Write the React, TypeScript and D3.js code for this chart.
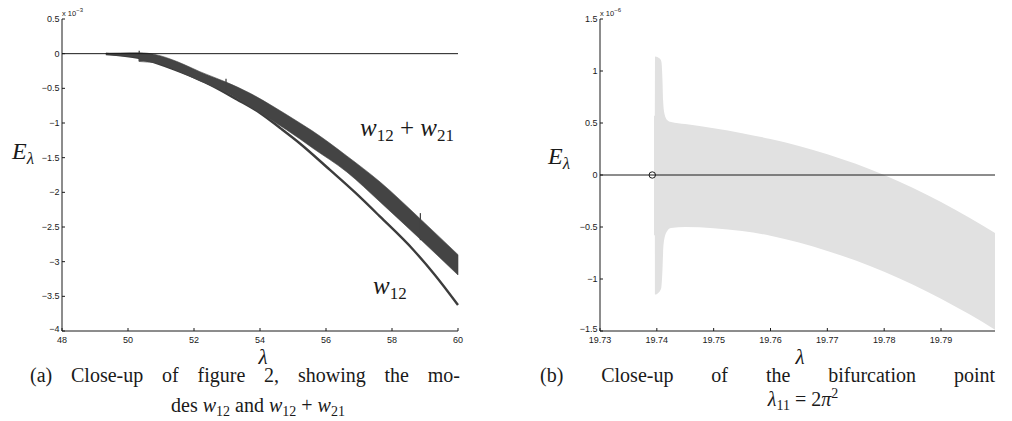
import React, { useLayoutEffect, useRef } from 'react';
import * as d3 from 'd3';

// ---------- Panel (a): modes w12 and w12 + w21 (E in units of 1e-3) ----------
const lamA = [49.33, 49.76, 50.33, 50.35, 50.82, 51.52, 52.18, 52.97, 53.7, 54.39, 55.21, 55.57, 56.63, 57.64, 58.85, 60.0];
const topA = [0.007, 0.01, 0.013, 0.013, -0.012, -0.12, -0.26, -0.41, -0.571, -0.759, -1.0, -1.109, -1.475, -1.851, -2.38, -2.899];
const botA = [-0.007, -0.026, -0.055, -0.113, -0.13, -0.25, -0.394, -0.556, -0.764, -0.97, -1.23, -1.353, -1.706, -2.139, -2.673, -3.192];
// small vertical notches on the w12 + w21 band
const notchLam = [50.34, 52.97, 58.86];
const notchTop = [0.043, -0.36, -2.3];
const notchBot = [-0.113, -0.556, -2.69];
const lamW12 = [49.33, 50.33, 51.52, 52.5, 53.3, 54.0, 54.61, 55.21, 56.12, 56.88, 57.64, 58.65, 59.3, 60.0];
const valW12 = [-0.005, -0.06, -0.25, -0.45, -0.66, -0.855, -1.072, -1.295, -1.677, -2.002, -2.351, -2.831, -3.192, -3.625];
const xDomainA = [48, 60];
const yDomainA = [-4, 0.5];
const xTicksA = [48, 50, 52, 54, 56, 58, 60];
const yTicksA = [0.5, 0, -0.5, -1, -1.5, -2, -2.5, -3, -3.5, -4];

// ---------- Panel (b): bifurcation point (E in units of 1e-6) ----------
const lamB = [19.7395, 19.73965, 19.73968, 19.7405, 19.7408, 19.741, 19.7411, 19.7413, 19.7418, 19.7425, 19.745, 19.75, 19.755, 19.76, 19.765, 19.77, 19.775, 19.78, 19.785, 19.79, 19.795, 19.7995];
const topB = [0.57, 0.57, 1.14, 1.12, 1.09, 0.9, 0.72, 0.6, 0.53, 0.51, 0.49, 0.449, 0.402, 0.346, 0.28, 0.2, 0.107, -0.001, -0.123, -0.259, -0.41, -0.557];
const botB = [-0.58, -0.58, -1.15, -1.12, -1.08, -0.9, -0.75, -0.62, -0.54, -0.51, -0.5, -0.511, -0.538, -0.584, -0.65, -0.73, -0.823, -0.931, -1.053, -1.189, -1.34, -1.487];
const bifLambda = [19.7392];
const bifValue = [0];
const xDomainB = [19.73, 19.7995];
const yDomainB = [-1.5, 1.5];
const xTicksB = [19.73, 19.74, 19.75, 19.76, 19.77, 19.78, 19.79];
const yTicksB = [1.5, 1, 0.5, 0, -0.5, -1, -1.5];

const SANS = '"Liberation Sans", Arial, Helvetica, sans-serif';
const SERIF = '"Liberation Serif", "Times New Roman", serif';
const INK = '#1a1a1a';
const BAND = '#444444';

function JustifiedLine({ words, x0, x1, y, size }: { words: string[]; x0: number; x1: number; y: number; size: number }) {
  const refs = useRef<(SVGTextElement | null)[]>([]);
  useLayoutEffect(() => {
    const els = refs.current.filter(Boolean) as SVGTextElement[];
    const widths = els.map((e) => e.getComputedTextLength());
    const total = widths.reduce((a, b) => a + b, 0);
    const gap = (x1 - x0 - total) / Math.max(1, els.length - 1);
    let x = x0;
    els.forEach((e, i) => {
      e.setAttribute('x', String(x));
      x += widths[i] + gap;
    });
  }, [words, x0, x1]);
  return (
    <g>
      {words.map((w, i) => (
        <text key={i} ref={(el) => { refs.current[i] = el; }} x={x0} y={y} fontFamily={SERIF} fontSize={size} fill={INK}>
          {w}
        </text>
      ))}
    </g>
  );
}

type AxesProps = {
  x: d3.ScaleLinear<number, number>;
  y: d3.ScaleLinear<number, number>;
  xTicks: number[];
  yTicks: number[];
  xFmt: (v: number) => string;
  yFmt: (v: number) => string;
  exponent: string;
  tickSize: number;
};

function Axes({ x, y, xTicks, yTicks, xFmt, yFmt, exponent, tickSize }: AxesProps) {
  const [x0, x1] = x.range();
  const [y0, y1] = y.range();
  const tl = 3;
  return (
    <g>
      <line x1={x0} x2={x0} y1={y1} y2={y0} stroke={INK} strokeWidth={1} />
      <line x1={x0} x2={x1} y1={y0} y2={y0} stroke={INK} strokeWidth={1} />
      {yTicks.map((t) => (
        <g key={'y' + t}>
          <line x1={x0} x2={x0 + tl} y1={y(t)} y2={y(t)} stroke={INK} strokeWidth={1} />
          <text x={x0 - 2.5} y={y(t) - (t === y.domain()[0] ? 2 : 0)} textAnchor="end" dominantBaseline="central" fontFamily={SANS} fontSize={tickSize} fill={INK}>
            {yFmt(t)}
          </text>
        </g>
      ))}
      {xTicks.map((t) => (
        <g key={'x' + t}>
          <line x1={x(t)} x2={x(t)} y1={y0} y2={y0 - tl} stroke={INK} strokeWidth={1} />
          <text x={x(t)} y={y0 + 11.5} textAnchor="middle" fontFamily={SANS} fontSize={tickSize} fill={INK}>
            {xFmt(t)}
          </text>
        </g>
      ))}
      <text x={x0} y={y1 - 3} fontFamily={SANS} fontSize={7.5} fill={INK}>
        x 10
        <tspan fontSize={6} dy={-4}>{exponent}</tspan>
      </text>
    </g>
  );
}

export default function App() {
  const xA = d3.scaleLinear().domain(xDomainA).range([62, 458]);
  const yA = d3.scaleLinear().domain(yDomainA).range([331, 19]);
  const xB = d3.scaleLinear().domain(xDomainB).range([600, 995]);
  const yB = d3.scaleLinear().domain(yDomainB).range([331, 19]);

  const bandA = d3
    .area<number>()
    .x((d) => xA(lamA[d]))
    .y0((d) => yA(botA[d]))
    .y1((d) => yA(topA[d]))
    .curve(d3.curveMonotoneX)(lamA.map((_, i) => i));

  const lineW12 = d3
    .line<number>()
    .x((d) => xA(lamW12[d]))
    .y((d) => yA(valW12[d]))
    .curve(d3.curveMonotoneX)(lamW12.map((_, i) => i));

  const bandB = d3
    .area<number>()
    .x((d) => xB(lamB[d]))
    .y0((d) => yB(botB[d]))
    .y1((d) => yB(topB[d]))
    .curve(d3.curveMonotoneX)(lamB.map((_, i) => i));

  const fmtG = d3.format('~g');
  const fmtB = d3.format('.2f');

  return (
    <svg width={1012} height={421} viewBox="0 0 1012 421" style={{ position: 'absolute', left: 0, top: 0, display: 'block', background: '#fff' }}>
      <rect x={0} y={0} width={1012} height={421} fill="#fff" />

      {/* ---------- Panel (a) ---------- */}
      <path d={lineW12 || ''} fill="none" stroke="#3c3c3c" strokeWidth={2.4} />
      <path d={bandA || ''} fill={BAND} stroke={BAND} strokeWidth={0.6} strokeLinejoin="round" />
      {notchLam.map((l, i) => (
        <line key={i} x1={xA(l)} x2={xA(l)} y1={yA(notchTop[i])} y2={yA(notchBot[i])} stroke={BAND} strokeWidth={1.3} />
      ))}
      <line x1={xA(xDomainA[0])} x2={xA(xDomainA[1])} y1={yA(0)} y2={yA(0)} stroke={INK} strokeWidth={1} />
      <Axes x={xA} y={yA} xTicks={xTicksA} yTicks={yTicksA} xFmt={(v) => fmtG(v)} yFmt={(v) => fmtG(v)} exponent="−3" tickSize={9} />

      <text x={360} y={136} fontFamily={SERIF} fontSize={25} fill={INK}>
        <tspan fontStyle="italic">w</tspan>
        <tspan fontSize={17} dy={5}>12</tspan>
        <tspan dy={-5}> + </tspan>
        <tspan fontStyle="italic">w</tspan>
        <tspan fontSize={17} dy={5}>21</tspan>
      </text>
      <text x={373} y={294} fontFamily={SERIF} fontSize={25} fill={INK}>
        <tspan fontStyle="italic">w</tspan>
        <tspan fontSize={17} dy={5}>12</tspan>
      </text>

      <text x={12} y={159} fontFamily={SERIF} fontSize={24} fill={INK}>
        <tspan fontStyle="italic">E</tspan>
        <tspan fontSize={17} dy={5} fontStyle="italic">λ</tspan>
      </text>
      <text x={263} y={363.5} textAnchor="middle" fontFamily={SERIF} fontSize={21} fontStyle="italic" fill={INK}>λ</text>

      <JustifiedLine words={['(a)', 'Close-up', 'of', 'figure', '2,', 'showing', 'the', 'mo-']} x0={30} x1={460} y={382} size={20} />
      <text x={258} y={412} textAnchor="middle" fontFamily={SERIF} fontSize={20} fill={INK}>
        des <tspan fontStyle="italic">w</tspan>
        <tspan fontSize={14} dy={4}>12</tspan>
        <tspan dy={-4}> and </tspan>
        <tspan fontStyle="italic">w</tspan>
        <tspan fontSize={14} dy={4}>12</tspan>
        <tspan dy={-4}> + </tspan>
        <tspan fontStyle="italic">w</tspan>
        <tspan fontSize={14} dy={4}>21</tspan>
      </text>

      {/* ---------- Panel (b) ---------- */}
      <path d={bandB || ''} fill="#e1e1e1" stroke="none" />
      <line x1={xB(xDomainB[0])} x2={xB(xDomainB[1])} y1={yB(0)} y2={yB(0)} stroke={INK} strokeWidth={1} />
      {bifLambda.map((l, i) => (
        <circle key={i} cx={xB(l)} cy={yB(bifValue[i])} r={3.2} fill="none" stroke={INK} strokeWidth={1} />
      ))}
      <Axes x={xB} y={yB} xTicks={xTicksB} yTicks={yTicksB} xFmt={(v) => fmtB(v)} yFmt={(v) => fmtG(v)} exponent="−6" tickSize={9} />

      <text x={548} y={164} fontFamily={SERIF} fontSize={24} fill={INK}>
        <tspan fontStyle="italic">E</tspan>
        <tspan fontSize={17} dy={5} fontStyle="italic">λ</tspan>
      </text>
      <text x={800} y={363.5} textAnchor="middle" fontFamily={SERIF} fontSize={21} fontStyle="italic" fill={INK}>λ</text>

      <JustifiedLine words={['(b)', 'Close-up', 'of', 'the', 'bifurcation', 'point']} x0={540} x1={995} y={382} size={20} />
      <text x={803} y={406} textAnchor="middle" fontFamily={SERIF} fontSize={20} fill={INK}>
        <tspan fontStyle="italic">λ</tspan>
        <tspan fontSize={14} dy={4}>11</tspan>
        <tspan dy={-4}> = 2</tspan>
        <tspan fontStyle="italic">π</tspan>
        <tspan fontSize={14} dy={-8}>2</tspan>
      </text>
    </svg>
  );
}
